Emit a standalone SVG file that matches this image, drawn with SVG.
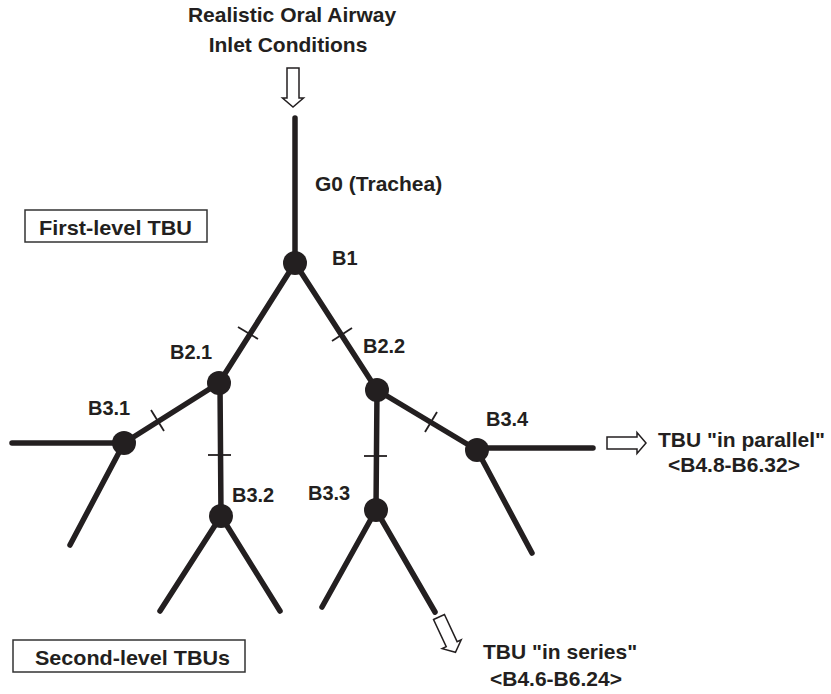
<svg xmlns="http://www.w3.org/2000/svg" width="831" height="694" viewBox="0 0 831 694">
<style>
.t{font-family:"Liberation Sans",Arial,sans-serif;font-weight:bold;fill:#231f20;font-size:21px}
.l{font-family:"Liberation Sans",Arial,sans-serif;font-weight:bold;fill:#231f20;font-size:20px}
.br{stroke:#231f20;stroke-width:5.5;stroke-linecap:round;fill:none}
.tk{stroke:#231f20;stroke-width:1.8;fill:none}
.nd{fill:#231f20}
.box{fill:#fff;stroke:#333;stroke-width:1.5}
.ar{fill:#fff;stroke:#231f20;stroke-width:1.5;stroke-linejoin:miter}
</style>
<defs>
<path id="harrow" d="M-6,0 L6,0 L6,30 L10.5,30 L0,39 L-10.5,30 L-6,30 Z"/>
</defs>
<rect width="831" height="694" fill="#fff"/>
<g id="connectors">
<line class="br" x1="295" y1="118" x2="295" y2="263"/>
<line class="br" x1="295" y1="263" x2="219" y2="383"/>
<line class="br" x1="295" y1="263" x2="377" y2="390"/>
<line class="br" x1="219" y1="383" x2="124" y2="443"/>
<line class="br" x1="220" y1="383" x2="221" y2="516"/>
<line class="br" x1="124" y1="443" x2="12" y2="443"/>
<line class="br" x1="124" y1="443" x2="70" y2="545"/>
<line class="br" x1="221" y1="516" x2="160" y2="611"/>
<line class="br" x1="221" y1="516" x2="280" y2="611"/>
<line class="br" x1="377" y1="390" x2="376" y2="510"/>
<line class="br" x1="377" y1="390" x2="477" y2="450"/>
<line class="br" x1="376" y1="510" x2="322" y2="607"/>
<line class="br" x1="376" y1="510" x2="435" y2="612"/>
<line class="br" x1="477" y1="448" x2="593" y2="448"/>
<line class="br" x1="477" y1="450" x2="532" y2="553"/>
<line class="tk" x1="238" y1="327" x2="258" y2="339"/>
<line class="tk" x1="332" y1="341" x2="352" y2="328"/>
<line class="tk" x1="151" y1="410" x2="164" y2="431"/>
<line class="tk" x1="425" y1="432" x2="437" y2="412"/>
<line class="tk" x1="208" y1="455" x2="231" y2="455"/>
<line class="tk" x1="364" y1="456" x2="387" y2="456"/>
<use href="#harrow" class="ar" transform="translate(293,68)"/>
<use href="#harrow" class="ar" transform="translate(607,443) rotate(-90)"/>
<use href="#harrow" class="ar" transform="translate(439,617) rotate(-25)"/>
</g>
<g id="title">
<text class="t" x="292" y="22" text-anchor="middle">Realistic Oral Airway</text>
<text class="t" x="288" y="52" text-anchor="middle">Inlet Conditions</text>
</g>
<g id="G0"><text class="t" x="315" y="191">G0 (Trachea)</text></g>
<g id="first-level"><rect class="box" x="25" y="210" width="182" height="32"/><text class="t" x="39" y="235" textLength="153" lengthAdjust="spacingAndGlyphs">First-level TBU</text></g>
<g id="second-level"><rect class="box" x="13" y="640" width="232" height="32"/><text class="t" x="35" y="665" textLength="195" lengthAdjust="spacingAndGlyphs">Second-level TBUs</text></g>
<g id="B1"><circle class="nd" cx="295" cy="263" r="12"/><text class="l" x="332" y="265">B1</text></g>
<g id="B2.1"><circle class="nd" cx="219" cy="383" r="12"/><text class="l" x="170" y="359">B2.1</text></g>
<g id="B2.2"><circle class="nd" cx="377" cy="390" r="12"/><text class="l" x="363" y="353">B2.2</text></g>
<g id="B3.1"><circle class="nd" cx="124" cy="443" r="12"/><text class="l" x="88" y="415">B3.1</text></g>
<g id="B3.2"><circle class="nd" cx="221" cy="516" r="12"/><text class="l" x="232" y="502">B3.2</text></g>
<g id="B3.3"><circle class="nd" cx="376" cy="510" r="12"/><text class="l" x="308" y="500">B3.3</text></g>
<g id="B3.4"><circle class="nd" cx="477" cy="450" r="12"/><text class="l" x="486" y="426">B3.4</text></g>
<g id="parallel"><text class="t" x="658" y="447">TBU "in parallel"</text><text class="t" x="668" y="472">&lt;B4.8-B6.32&gt;</text></g>
<g id="series"><text class="t" x="483" y="659">TBU "in series"</text><text class="t" x="490" y="686">&lt;B4.6-B6.24&gt;</text></g>
</svg>
